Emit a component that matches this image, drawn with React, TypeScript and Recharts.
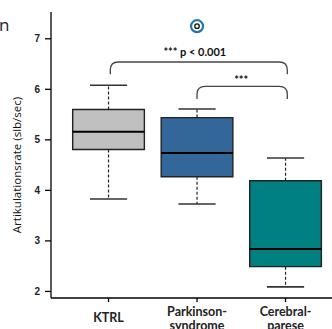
import { ComposedChart, XAxis, YAxis, ReferenceArea, ReferenceLine, Scatter } from 'recharts'

// Artikulationsrate per group (boxplot statistics)
const categories = ['KTRL', 'Parkinson-\nsyndrome', 'Cerebral-\nparese']
const groupPos = [1, 2, 3]
const whiskerLow = [3.83, 3.73, 2.09]
const q1 = [4.81, 4.27, 2.49]
const median = [5.16, 4.74, 2.84]
const q3 = [5.6, 5.44, 4.19]
const whiskerHigh = [6.08, 5.61, 4.64]
const outliers = [{ x: 2, y: 7.25 }]
const yTicks = [2, 3, 4, 5, 6, 7]

// significance brackets
const brackets = [
  { from: 1.02, to: 3.02, top: 6.54, foot: 6.3, text: '*** p < 0.001' },
  { from: 2.0, to: 3.02, top: 6.06, foot: 5.81, text: '***' },
]
const bracketLabelDy = [-6, -2]
const bracketLabelDx = [-4, -1]

const boxColors = ['#c0c0c0', '#336699', '#008080']
const BOX_HALF = 0.405
const CAP_HALF = 0.21
const font = 'Lato, "Open Sans", sans-serif'

const CategoryTick = ({ x, y, payload }: any) => {
  const idx = groupPos.indexOf(payload.value)
  const lines = (categories[idx] || '').split('\n')
  const startDy = lines.length === 1 ? 18 : 12
  return (
    <text x={x} y={y} textAnchor="middle" fontFamily={font} fontWeight={700} fontSize={12.5} fill="#222">
      {lines.map((l, i) => (
        <tspan key={i} x={x} dy={i === 0 ? startDy : 13.5}>{l}</tspan>
      ))}
    </text>
  )
}

const OutlierShape = ({ cx, cy }: any) => (
  <g>
    <circle cx={cx} cy={cy} r={6} fill="#fff" stroke="#1f78b4" strokeWidth={2.2} />
    <circle cx={cx} cy={cy} r={2.2} fill="#fff" stroke="#111" strokeWidth={1.3} />
  </g>
)

const bracketShape = (i: number) => (p: any) => {
  const { x, y, width, height } = p
  const r = 8
  const d = `M${x},${y + height} L${x},${y + r} Q${x},${y} ${x + r},${y} L${x + width - r},${y} Q${x + width},${y} ${x + width},${y + r} L${x + width},${y + height}`
  return (
    <g>
      <path d={d} fill="none" stroke="#444" strokeWidth={1.3} />
      <text x={x + width / 2 + bracketLabelDx[i]} y={y + bracketLabelDy[i]} textAnchor="middle"
        fontFamily={font} fontWeight={700} fontSize={11} fill="#111">{brackets[i].text}</text>
    </g>
  )
}

export default function App() {
  const xDomain = [0.35, 3.525]
  return (
    <div style={{ position: 'fixed', left: 0, top: 0, width: 332, height: 329, background: '#fff' }}>
      <svg width={20} height={40} style={{ position: 'absolute', left: 0, top: 0 }}>
        <text x={-1} y={31} fontFamily='"Open Sans", sans-serif' fontSize={17} fill="#222">n</text>
      </svg>
      <svg width={30} height={329} style={{ position: 'absolute', left: 0, top: 0 }}>
        <text x={21} y={165} transform="rotate(-90 21 165)" textAnchor="middle"
          fontFamily='"Open Sans", sans-serif' fontSize={11.5} fill="#111">Artikulationsrate (slb/sec)</text>
      </svg>
      <ComposedChart width={332} height={329} margin={{ top: 12, right: 0, bottom: 0, left: 0 }}
        style={{ position: 'absolute', left: 0, top: 0 }}>
        <XAxis dataKey="x" type="number" domain={xDomain} allowDataOverflow ticks={groupPos}
          height={31} tickSize={4} tickMargin={2} interval={0}
          axisLine={{ stroke: '#000', strokeWidth: 1.3 }} tickLine={{ stroke: '#000', strokeWidth: 1.3 }}
          tick={<CategoryTick />} />
        <XAxis xAxisId="top" orientation="top" type="number" domain={xDomain} allowDataOverflow
          height={0} tick={false} tickLine={false} axisLine={{ stroke: '#000', strokeWidth: 1.3 }} />
        <YAxis type="number" domain={[1.87, 7.53]} allowDataOverflow ticks={yTicks} width={51}
          tickSize={6} tickMargin={5} interval={0}
          axisLine={{ stroke: '#000', strokeWidth: 1.3 }} tickLine={{ stroke: '#000', strokeWidth: 1.3 }}
          tick={{ fontFamily: '"Liberation Sans", Arial, sans-serif', fontWeight: 700, fontSize: 10, fill: '#222' }} />

        {brackets.map((b, i) => (
          <ReferenceArea key={'br' + i} x1={b.from} x2={b.to} y1={b.foot} y2={b.top}
            ifOverflow="visible" shape={bracketShape(i)} />
        ))}

        {groupPos.map((g, i) => [
          <ReferenceLine key={'wu' + i} segment={[{ x: g, y: q3[i] }, { x: g, y: whiskerHigh[i] }]}
            stroke="#222" strokeWidth={1.2} strokeDasharray="3 2" />,
          <ReferenceLine key={'wl' + i} segment={[{ x: g, y: q1[i] }, { x: g, y: whiskerLow[i] }]}
            stroke="#222" strokeWidth={1.2} strokeDasharray="3 2" />,
          <ReferenceLine key={'cu' + i} segment={[{ x: g - CAP_HALF, y: whiskerHigh[i] }, { x: g + CAP_HALF, y: whiskerHigh[i] }]}
            stroke="#333" strokeWidth={1.6} />,
          <ReferenceLine key={'cl' + i} segment={[{ x: g - CAP_HALF, y: whiskerLow[i] }, { x: g + CAP_HALF, y: whiskerLow[i] }]}
            stroke="#333" strokeWidth={1.6} />,
          <ReferenceArea key={'bx' + i} x1={g - BOX_HALF} x2={g + BOX_HALF} y1={q1[i]} y2={q3[i]}
            fill={boxColors[i]} fillOpacity={1} stroke="#222" strokeWidth={1.4} ifOverflow="visible" />,
          <ReferenceLine key={'md' + i} segment={[{ x: g - BOX_HALF, y: median[i] }, { x: g + BOX_HALF, y: median[i] }]}
            stroke="#000" strokeWidth={2} />,
        ])}

        <Scatter data={outliers} dataKey="y" shape={<OutlierShape />} isAnimationActive={false} />
      </ComposedChart>
    </div>
  )
}
